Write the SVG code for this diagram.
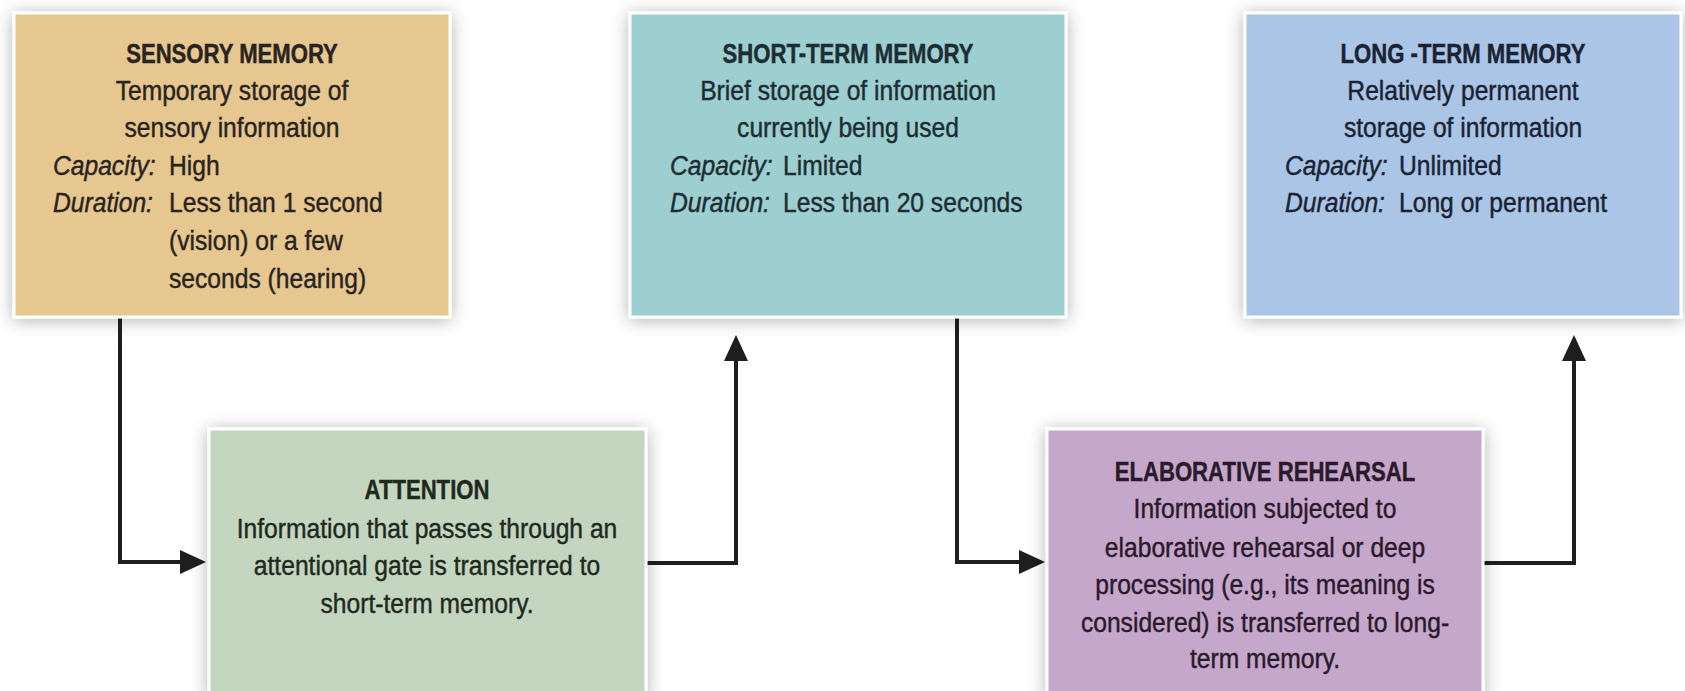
<svg xmlns="http://www.w3.org/2000/svg" width="1685" height="691" viewBox="0 0 1685 691">
<defs>
<filter id="sh" x="-10%" y="-10%" width="120%" height="125%">
<feGaussianBlur in="SourceAlpha" stdDeviation="9"/>
<feOffset dx="0" dy="2" result="b"/>
<feComponentTransfer><feFuncA type="linear" slope="0.3"/></feComponentTransfer>
<feMerge><feMergeNode/><feMergeNode in="SourceGraphic"/></feMerge>
</filter>
<marker id="ah" viewBox="0 0 26 24" refX="0" refY="12" markerWidth="26" markerHeight="24" markerUnits="userSpaceOnUse" orient="auto">
<path d="M0,0 L26,12 L0,24 z" fill="#1e1e1e"/>
</marker>
<style>
.box{stroke:#ffffff;stroke-width:3;filter:url(#sh);}
text{font-family:"Liberation Sans",Arial,sans-serif;font-size:28px;fill:#2a2420;stroke:#2a2420;stroke-width:0.45;}
.t{font-weight:bold;}
.c{text-anchor:middle;}
.i{font-style:italic;}
.conn{fill:none;stroke:#1e1e1e;stroke-width:4;}
.st text{fill:#1c2e33;stroke:#1c2e33;}
.lt text{fill:#1a2333;stroke:#1a2333;}
.at text{fill:#1f2a1f;stroke:#1f2a1f;}
.el text{fill:#2a1a2a;stroke:#2a1a2a;}
</style>
</defs>
<rect width="1685" height="691" fill="#ffffff"/>

<g id="connectors">
<path class="conn" d="M120,318 V562 H180" marker-end="url(#ah)"/>
<path class="conn" d="M647,563 H736 V361" marker-end="url(#ah)"/>
<path class="conn" d="M957,318 V562 H1019" marker-end="url(#ah)"/>
<path class="conn" d="M1483,563 H1574 V361" marker-end="url(#ah)"/>
</g>

<g id="sensory">
<rect class="box" x="14" y="13" width="436" height="304" fill="#e6c790"/>
<text class="t c" transform="matrix(0.79 0 0 1 232 0)" x="0" y="63">SENSORY MEMORY</text>
<text class="c" transform="matrix(0.88 0 0 1 232 0)" x="0" y="100">Temporary storage of</text>
<text class="c" transform="matrix(0.88 0 0 1 232 0)" x="0" y="137">sensory information</text>
<text class="i" transform="matrix(0.88 0 0 1 53 0)" x="0" y="175">Capacity:</text>
<text transform="matrix(0.88 0 0 1 169 0)" x="0" y="175">High</text>
<text class="i" transform="matrix(0.88 0 0 1 53 0)" x="0" y="212">Duration:</text>
<text transform="matrix(0.88 0 0 1 169 0)" x="0" y="212">Less than 1 second</text>
<text transform="matrix(0.88 0 0 1 169 0)" x="0" y="250">(vision) or a few</text>
<text transform="matrix(0.88 0 0 1 169 0)" x="0" y="288">seconds (hearing)</text>
</g>

<g id="shortterm" class="st">
<rect class="box" x="630" y="13" width="436" height="304" fill="#9dcfd0"/>
<text class="t c" transform="matrix(0.79 0 0 1 848 0)" x="0" y="63">SHORT-TERM MEMORY</text>
<text class="c" transform="matrix(0.88 0 0 1 848 0)" x="0" y="100">Brief storage of information</text>
<text class="c" transform="matrix(0.88 0 0 1 848 0)" x="0" y="137">currently being used</text>
<text class="i" transform="matrix(0.88 0 0 1 670 0)" x="0" y="175">Capacity:</text>
<text transform="matrix(0.88 0 0 1 783 0)" x="0" y="175">Limited</text>
<text class="i" transform="matrix(0.88 0 0 1 670 0)" x="0" y="212">Duration:</text>
<text transform="matrix(0.88 0 0 1 783 0)" x="0" y="212">Less than 20 seconds</text>
</g>

<g id="longterm" class="lt">
<rect class="box" x="1245" y="13" width="436" height="304" fill="#abc5e7"/>
<text class="t c" transform="matrix(0.79 0 0 1 1463 0)" x="0" y="63">LONG -TERM MEMORY</text>
<text class="c" transform="matrix(0.88 0 0 1 1463 0)" x="0" y="100">Relatively permanent</text>
<text class="c" transform="matrix(0.88 0 0 1 1463 0)" x="0" y="137">storage of information</text>
<text class="i" transform="matrix(0.88 0 0 1 1285 0)" x="0" y="175">Capacity:</text>
<text transform="matrix(0.88 0 0 1 1399 0)" x="0" y="175">Unlimited</text>
<text class="i" transform="matrix(0.88 0 0 1 1285 0)" x="0" y="212">Duration:</text>
<text transform="matrix(0.88 0 0 1 1399 0)" x="0" y="212">Long or permanent</text>
</g>

<g id="attention" class="at">
<rect class="box" x="209" y="429" width="437" height="270" fill="#c5d6c0"/>
<text class="t c" transform="matrix(0.79 0 0 1 427 0)" x="0" y="499">ATTENTION</text>
<text class="c" transform="matrix(0.88 0 0 1 427 0)" x="0" y="538">Information that passes through an</text>
<text class="c" transform="matrix(0.88 0 0 1 427 0)" x="0" y="575">attentional gate is transferred to</text>
<text class="c" transform="matrix(0.88 0 0 1 427 0)" x="0" y="613">short-term memory.</text>
</g>

<g id="elaborative" class="el">
<rect class="box" x="1047" y="429" width="436" height="270" fill="#c6a7cc"/>
<text class="t c" transform="matrix(0.79 0 0 1 1265 0)" x="0" y="481">ELABORATIVE REHEARSAL</text>
<text class="c" transform="matrix(0.88 0 0 1 1265 0)" x="0" y="518">Information subjected to</text>
<text class="c" transform="matrix(0.88 0 0 1 1265 0)" x="0" y="557">elaborative rehearsal or deep</text>
<text class="c" transform="matrix(0.88 0 0 1 1265 0)" x="0" y="594">processing (e.g., its meaning is</text>
<text class="c" transform="matrix(0.88 0 0 1 1265 0)" x="0" y="632">considered) is transferred to long-</text>
<text class="c" transform="matrix(0.88 0 0 1 1265 0)" x="0" y="668">term memory.</text>
</g>
</svg>
